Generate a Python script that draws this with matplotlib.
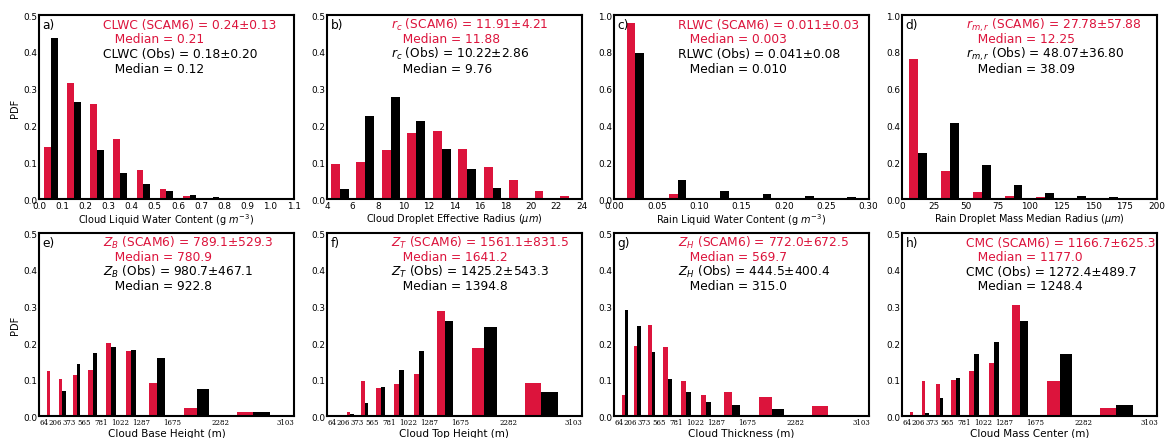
import numpy as np
import matplotlib
matplotlib.use("Agg")
import matplotlib.pyplot as plt

RED = '#DC143C'

# ---- top row: uniform bins ----
clwc_edges = np.arange(0, 1.15, 0.1)
clwc_scam = [0.142, 0.316, 0.257, 0.163, 0.079, 0.028, 0.007, 0, 0, 0, 0]
clwc_obs = [0.438, 0.263, 0.132, 0.072, 0.040, 0.021, 0.012, 0.006, 0.004, 0, 0]

rc_edges = np.arange(4, 25, 2)
rc_scam = [0.096, 0.101, 0.134, 0.179, 0.185, 0.136, 0.086, 0.051, 0.022, 0.008]
rc_obs = [0.026, 0.226, 0.277, 0.212, 0.137, 0.082, 0.030, 0.004, 0, 0]

rlwc_edges = np.arange(0, 0.31, 0.05)
rlwc_scam = [0.957, 0.027, 0.004, 0.001, 0, 0]
rlwc_obs = [0.792, 0.105, 0.045, 0.025, 0.014, 0.009]

rmr_edges = np.arange(0, 201, 25)
rmr_scam = [0.759, 0.154, 0.036, 0.016, 0.011, 0.004, 0.003, 0]
rmr_obs = [0.252, 0.411, 0.183, 0.078, 0.034, 0.014, 0.009, 0]

# ---- bottom row: height bins (m) ----
height_edges = [64, 206, 373, 565, 781, 1022, 1287, 1675, 2282, 3103]
zb_scam = [0.123, 0.101, 0.114, 0.126, 0.199, 0.177, 0.091, 0.023, 0.011]
zb_obs = [0, 0.068, 0.143, 0.174, 0.189, 0.181, 0.159, 0.074, 0.011]
zt_scam = [0, 0.011, 0.095, 0.077, 0.088, 0.115, 0.286, 0.185, 0.092]
zt_obs = [0, 0.005, 0.037, 0.080, 0.127, 0.178, 0.261, 0.243, 0.067]
zh_scam = [0.058, 0.192, 0.249, 0.188, 0.096, 0.057, 0.066, 0.053, 0.027]
zh_obs = [0.290, 0.247, 0.176, 0.101, 0.067, 0.040, 0.031, 0.020, 0]
cmc_scam = [0.013, 0.096, 0.087, 0.099, 0.124, 0.145, 0.305, 0.096, 0.023]
cmc_obs = [0, 0.009, 0.050, 0.105, 0.170, 0.203, 0.261, 0.170, 0.032]

top_panels = [
    ('a)', clwc_edges, clwc_scam, clwc_obs, 0.029, (0, 1.1), 0.5,
     r'Cloud Liquid Water Content (g $m^{-3}$)',
     ['CLWC (SCAM6) = 0.24±0.13', '   Median = 0.21', 'CLWC (Obs) = 0.18±0.20', '   Median = 0.12']),
    ('b)', rc_edges, rc_scam, rc_obs, 0.7, (4, 24), 0.5,
     r'Cloud Droplet Effective Radius ($\mu m$)',
     [r'$r_c$ (SCAM6) = 11.91±4.21', '   Median = 11.88', r'$r_c$ (Obs) = 10.22±2.86', '   Median = 9.76']),
    ('c)', rlwc_edges, rlwc_scam, rlwc_obs, 0.01, (0, 0.3), 1.0,
     r'Rain Liquid Water Content (g $m^{-3}$)',
     ['RLWC (SCAM6) = 0.011±0.03', '   Median = 0.003', 'RLWC (Obs) = 0.041±0.08', '   Median = 0.010']),
    ('d)', rmr_edges, rmr_scam, rmr_obs, 7, (0, 200), 1.0,
     r'Rain Droplet Mass Median Radius ($\mu m$)',
     [r'$r_{m,r}$ (SCAM6) = 27.78±57.88', '   Median = 12.25', r'$r_{m,r}$ (Obs) = 48.07±36.80', '   Median = 38.09']),
]
bottom_panels = [
    ('e)', zb_scam, zb_obs, 'Cloud Base Height (m)',
     [r'$Z_B$ (SCAM6) = 789.1±529.3', '   Median = 780.9', r'$Z_B$ (Obs) = 980.7±467.1', '   Median = 922.8']),
    ('f)', zt_scam, zt_obs, 'Cloud Top Height (m)',
     [r'$Z_T$ (SCAM6) = 1561.1±831.5', '   Median = 1641.2', r'$Z_T$ (Obs) = 1425.2±543.3', '   Median = 1394.8']),
    ('g)', zh_scam, zh_obs, 'Cloud Thickness (m)',
     [r'$Z_H$ (SCAM6) = 772.0±672.5', '   Median = 569.7', r'$Z_H$ (Obs) = 444.5±400.4', '   Median = 315.0']),
    ('h)', cmc_scam, cmc_obs, 'Cloud Mass Center (m)',
     ['CMC (SCAM6) = 1166.7±625.3', '   Median = 1177.0', 'CMC (Obs) = 1272.4±489.7', '   Median = 1248.4']),
]

fig = plt.figure(figsize=(11.65, 4.39), dpi=100)
lefts = [0.0337, 0.2809, 0.5273, 0.7745]
width = 0.2183


def style_axes(ax, label, lines):
    for s in ax.spines.values():
        s.set_linewidth(1.5)
    ax.tick_params(length=0, pad=1.5, labelsize=6.4)
    ax.text(0.013, 0.951, label, transform=ax.transAxes, fontsize=8.8, va='center', ha='left')
    ys = [0.951, 0.871, 0.792, 0.712]
    cols = [RED, RED, 'black', 'black']
    for txt, y, c in zip(lines, ys, cols):
        ax.text(0.25, y, txt, transform=ax.transAxes, fontsize=8.8, color=c, va='center', ha='left')


for i, (lab, edges, scam, obs, w, xlim, ymax, xlabel, lines) in enumerate(top_panels):
    ax = fig.add_axes([lefts[i], 0.5444, width, 0.4191])
    centers = (np.asarray(edges[:-1]) + np.asarray(edges[1:])) / 2
    ax.bar(centers - w, scam, width=w, align='edge', color=RED, linewidth=0)
    ax.bar(centers, obs, width=w, align='edge', color='black', linewidth=0)
    ax.set_xlim(*xlim)
    ax.set_ylim(0, ymax)
    ax.set_xticks(edges)
    if ymax == 0.5:
        ax.set_yticks(np.arange(0, 0.51, 0.1))
        ax.set_yticklabels([f'{v:.1f}' for v in np.arange(0, 0.51, 0.1)])
    else:
        ax.set_yticks(np.arange(0, 1.01, 0.2))
        ax.set_yticklabels([f'{v:.1f}' for v in np.arange(0, 1.01, 0.2)])
    if i == 0:
        ax.set_xticklabels([f'{v:.1f}' for v in edges])
    elif i == 2:
        ax.set_xticklabels([f'{v:.2f}' for v in edges])
    else:
        ax.set_xticklabels([f'{v:g}' for v in edges])
    ax.set_xlabel(xlabel, fontsize=7, labelpad=1)
    if i == 0:
        ax.set_ylabel('PDF', fontsize=7, labelpad=2)
    style_axes(ax, lab, lines)

h_edges = np.asarray(height_edges, dtype=float)
h_centers = (h_edges[:-1] + h_edges[1:]) / 2
h_w = (h_edges[1:] - h_edges[:-1]) * 0.25
for i, (lab, scam, obs, xlabel, lines) in enumerate(bottom_panels):
    ax = fig.add_axes([lefts[i], 0.0494, width, 0.4175])
    ax.bar(h_centers - h_w, scam, width=h_w, align='edge', color=RED, linewidth=0)
    ax.bar(h_centers, obs, width=h_w, align='edge', color='black', linewidth=0)
    ax.set_xlim(0, 3200)
    ax.set_ylim(0, 0.5)
    ax.set_xticks(h_edges)
    ax.set_xticklabels([str(v) for v in height_edges])
    ax.set_yticks(np.arange(0, 0.51, 0.1))
    ax.set_yticklabels([f'{v:.1f}' for v in np.arange(0, 0.51, 0.1)])
    ax.set_xlabel(xlabel, fontsize=7.5, labelpad=1)
    if i == 0:
        ax.set_ylabel('PDF', fontsize=7, labelpad=2)
    style_axes(ax, lab, lines)
    for t in ax.get_xticklabels():
        t.set_fontsize(5)
        t.set_family('DejaVu Serif')

fig.savefig('out.png', dpi=100)
